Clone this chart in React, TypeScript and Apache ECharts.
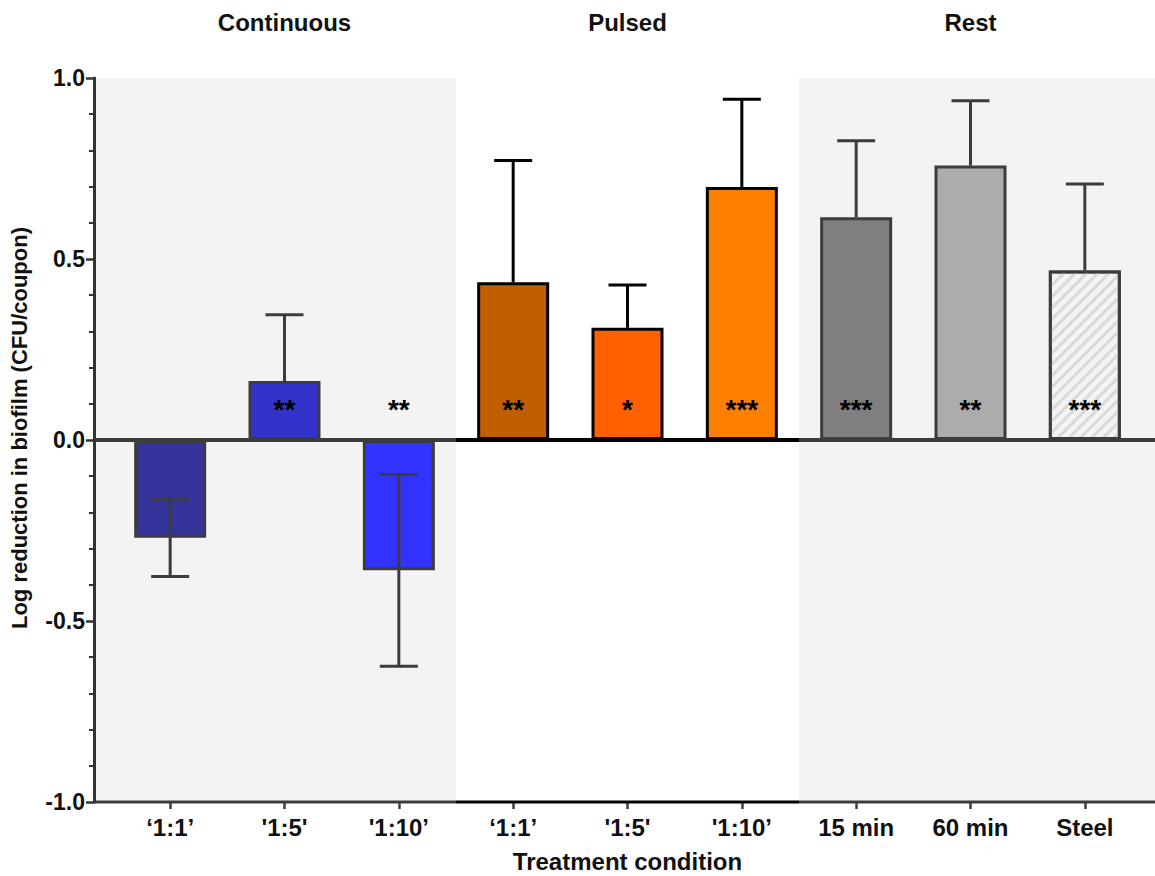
import React, { useEffect, useRef } from "react";
import * as echarts from "echarts";

// ---------- data ----------
const categories = ["‘1:1’", "'1:5'", "'1:10’", "‘1:1’", "'1:5'", "'1:10’", "15 min", "60 min", "Steel"];
const groups = ["Continuous", "Continuous", "Continuous", "Pulsed", "Pulsed", "Pulsed", "Rest", "Rest", "Rest"];
const meanValues = [-0.27, 0.163, -0.36, 0.436, 0.31, 0.699, 0.615, 0.758, 0.468];
const sdValues = [0.107, 0.183, 0.265, 0.336, 0.118, 0.242, 0.212, 0.179, 0.239];
const stars = ["", "**", "**", "**", "*", "***", "***", "**", "***"];
const barColors = ["#333399", "#3333cc", "#3333ff", "#c05f00", "#ff6000", "#ff8000", "#7f7f7f", "#acacac", "#f3f3f3"];
const shadedGroups = ["Continuous", "Rest"];
const yMin = -1;
const yMax = 1;
const yInterval = 0.5;
const yName = "Log reduction in biofilm (CFU/coupon)";
const xName = "Treatment condition";

// ---------- layout ----------
const W = 1155;
const H = 876;
const GRID_TOP = 78;
const GRID_BOTTOM = 74;
const AXIS_LEFT = 94;
const CAT_LEFT = 113;
const CAT_RIGHT = 13;
const STAR_LEVEL = 0.085;
const FONT = "'Liberation Sans', Arial, Helvetica, sans-serif";
const DARK = "#3c3c3c";
const BLACK = "#000000";
const SHADE = "#f3f3f3";

const catWidth = (W - CAT_LEFT - CAT_RIGHT) / categories.length;
const XMIN = -(CAT_LEFT - AXIS_LEFT) / catWidth - 0.5;
const XMAX = categories.length - 0.5 + CAT_RIGHT / catWidth;

function groupSpans() {
  const spans: { name: string; start: number; end: number }[] = [];
  groups.forEach((g, i) => {
    const last = spans[spans.length - 1];
    if (last && last.name === g) last.end = i;
    else spans.push({ name: g, start: i, end: i });
  });
  return spans;
}

export default function App() {
  const ref = useRef<HTMLDivElement>(null);

  useEffect(() => {
    if (!ref.current) return;
    const chart = echarts.init(ref.current, undefined, { renderer: "svg" });
    const spans = groupSpans();
    const titleLabels = categories.map(() => "");
    spans.forEach((s) => {
      titleLabels[Math.round((s.start + s.end) / 2)] = s.name;
    });
    const lineColor = (g: string) => (shadedGroups.includes(g) ? DARK : BLACK);

    const spanRanges = spans.map((s, k) => ({
      name: s.name,
      x0: k === 0 ? XMIN : s.start - 0.5,
      x1: k === spans.length - 1 ? XMAX : s.end + 0.5,
    }));

    const segSeries: any[] = [];
    spanRanges.forEach((r) => {
      [0, yMin].forEach((yv) => {
        segSeries.push({
          type: "line",
          xAxisIndex: 2,
          yAxisIndex: 1,
          data: [
            [r.x0, yv],
            [r.x1, yv],
          ],
          symbol: "none",
          clip: false,
          silent: true,
          z: 6,
          lineStyle: { color: lineColor(r.name), width: yv === 0 ? 4 : 3 },
        });
      });
    });

    const labelStyle = { color: "#111", fontSize: 24, fontWeight: "bold", fontFamily: FONT };

    const option: any = {
      animation: false,
      backgroundColor: "#ffffff",
      textStyle: { fontFamily: FONT },
      grid: [
        { left: CAT_LEFT, right: CAT_RIGHT, top: GRID_TOP, bottom: GRID_BOTTOM, outerBoundsMode: "none", containLabel: false },
        { left: AXIS_LEFT, right: 0, top: GRID_TOP, bottom: GRID_BOTTOM, outerBoundsMode: "none", containLabel: false },
      ],
      xAxis: [
        {
          gridIndex: 0,
          type: "category",
          data: categories,
          position: "bottom",
          axisLine: { show: false, onZero: false },
          axisTick: { show: true, alignWithLabel: true, length: 7, lineStyle: { color: DARK, width: 2.5 } },
          axisLabel: { interval: 0, margin: 13, ...labelStyle },
          name: xName,
          nameLocation: "middle",
          nameGap: 47,
          nameTextStyle: { ...labelStyle },
          splitLine: { show: false },
        },
        {
          gridIndex: 0,
          type: "category",
          data: titleLabels,
          position: "top",
          axisLine: { show: false, onZero: false },
          axisTick: { show: false },
          axisLabel: { interval: 0, margin: 44, ...labelStyle },
          splitLine: { show: false },
        },
        {
          gridIndex: 1,
          type: "value",
          min: XMIN,
          max: XMAX,
          show: false,
          axisLine: { onZero: false },
        },
      ],
      yAxis: [
        { gridIndex: 0, type: "value", min: yMin, max: yMax, interval: yInterval, show: false, axisLine: { onZero: false } },
        {
          gridIndex: 1,
          type: "value",
          min: yMin,
          max: yMax,
          interval: yInterval,
          position: "left",
          z: 8,
          axisLine: { show: true, onZero: false, lineStyle: { color: "#333", width: 3 } },
          axisTick: { show: true, length: 8, lineStyle: { color: "#333", width: 2.5 } },
          minorTick: { show: true, splitNumber: 5, length: 5, lineStyle: { color: "#333", width: 2 } },
          splitLine: { show: false },
          axisLabel: {
            margin: 9,
            ...labelStyle,
            fontSize: 23,
            formatter: (v: number) => v.toFixed(1),
          },
          name: yName,
          nameLocation: "middle",
          nameGap: 64,
          nameTextStyle: { ...labelStyle, fontSize: 22, padding: [0, 0, 0, 24] },
        },
      ],
      series: [
        {
          type: "custom",
          xAxisIndex: 2,
          yAxisIndex: 1,
          silent: true,
          z: 0,
          clip: false,
          data: spanRanges.filter((r) => shadedGroups.includes(r.name)).map((r) => [r.x0, r.x1]),
          encode: { x: [0, 1] },
          renderItem: (params: any, api: any) => {
            const p0 = api.coord([api.value(0), yMax]);
            const p1 = api.coord([api.value(1), yMin]);
            return {
              type: "rect",
              shape: { x: p0[0], y: p0[1], width: p1[0] - p0[0], height: p1[1] - p0[1] },
              style: { fill: SHADE },
            };
          },
        },
        {
          type: "bar",
          xAxisIndex: 0,
          yAxisIndex: 0,
          barWidth: 72,
          z: 3,
          data: meanValues.map((v, i) => ({
            value: v,
            itemStyle: {
              color: barColors[i],
              borderColor: lineColor(groups[i]),
              borderWidth: 3,
              decal:
                categories[i] === "Steel"
                  ? {
                      symbol: "rect",
                      symbolSize: 1,
                      color: "#d9d9d9",
                      dashArrayX: [1, 0],
                      dashArrayY: [3, 5],
                      rotation: -Math.PI / 4,
                    }
                  : undefined,
            },
          })),
        },
        {
          type: "custom",
          xAxisIndex: 0,
          yAxisIndex: 0,
          z: 5,
          silent: true,
          data: meanValues.map((m, i) => [i, m, sdValues[i]]),
          encode: { x: 0, y: 1 },
          renderItem: (params: any, api: any) => {
            const i = api.value(0);
            const m = api.value(1);
            const e = api.value(2);
            const hi = api.coord([i, m + e]);
            const lo = api.coord([i, m < 0 ? m - e : m]);
            const col = lineColor(groups[params.dataIndex]);
            const half = 19;
            const st = { stroke: col, lineWidth: 3 };
            const children: any[] = [
              { type: "line", shape: { x1: hi[0], y1: hi[1], x2: lo[0], y2: lo[1] }, style: st },
              { type: "line", shape: { x1: hi[0] - half, y1: hi[1], x2: hi[0] + half, y2: hi[1] }, style: st },
            ];
            if (m < 0) {
              children.push({ type: "line", shape: { x1: lo[0] - half, y1: lo[1], x2: lo[0] + half, y2: lo[1] }, style: st });
            }
            return { type: "group", children };
          },
        },
        {
          type: "custom",
          xAxisIndex: 0,
          yAxisIndex: 0,
          z: 7,
          silent: true,
          data: stars.map((s, i) => [i]),
          encode: { x: 0 },
          renderItem: (params: any, api: any) => {
            const p = api.coord([api.value(0), STAR_LEVEL]);
            return {
              type: "text",
              x: p[0],
              y: p[1],
              style: {
                text: stars[params.dataIndex],
                fill: "#000",
                font: `bold 28px ${FONT}`,
                textAlign: "center",
                textVerticalAlign: "middle",
              },
            };
          },
        },
        ...segSeries,
      ],
    };
    chart.setOption(option);
    return () => chart.dispose();
  }, []);

  return <div ref={ref} style={{ position: "fixed", left: 0, top: 0, width: W, height: H }} />;
}
